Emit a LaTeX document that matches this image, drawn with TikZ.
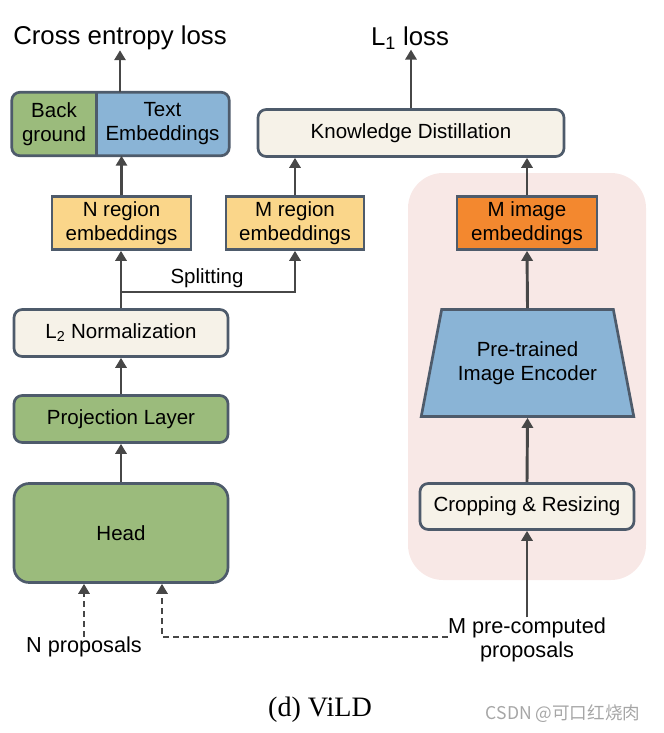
\documentclass[tikz,border=0pt]{standalone}
\usepackage{fontspec}
\setmainfont{Liberation Sans}
\newfontfamily\captionfont{Liberation Serif}
\newfontfamily\cjkfont{Noto Sans CJK SC}
\usetikzlibrary{arrows.meta, shapes.geometric, backgrounds}

\definecolor{edge}{HTML}{4E5B6B}
\definecolor{wire}{HTML}{474747}
\definecolor{leaf}{HTML}{9BBB7C}
\definecolor{sky}{HTML}{8AB4D6}
\definecolor{cream}{HTML}{F6F2E8}
\definecolor{wheat}{HTML}{FAD68A}
\definecolor{tangerine}{HTML}{F3882F}
\definecolor{blush}{HTML}{F8E8E6}

\begin{document}
\begin{tikzpicture}[
		x=0.03cm, y=-0.03cm,
		every node/.style={font=\fontsize{17.5}{20.5}\selectfont, align=center, inner sep=0pt},
		box/.style={draw=edge, line width=2.3pt, rounded corners=7pt},
		flat/.style={draw=edge, line width=2.3pt},
		arr/.style={draw=wire, line width=2.5pt, -{Triangle[length=8.5pt, width=9.5pt]}},
		dasharr/.style={arr, dash pattern=on 5pt off 3.5pt}
	]
  \useasboundingbox (0,0) rectangle (663,733);
  \node (back) [minimum width=2.52cm, minimum height=1.89cm] at (54,124) {Back\\ground};
  \node (text_emb) [minimum width=3.99cm, minimum height=1.89cm] at (162.5,124) {Text\\Embeddings};
  \node (know) [box, fill=cream, minimum width=9.18cm, minimum height=1.41cm] at (411,133) {Knowledge Distillation};
  \node (n_region) [flat, fill=wheat, minimum width=4.17cm, minimum height=1.59cm] at (121.5,223) {N region\\embeddings};
  \node (m_region) [flat, fill=wheat, minimum width=4.14cm, minimum height=1.59cm] at (295,223) {M region\\embeddings};
  \node (m_image) [flat, fill=tangerine, minimum width=4.2cm, minimum height=1.59cm] at (527,223) {M image\\embeddings};
  \node (l2_norm) [box, fill=cream, minimum width=6.42cm, minimum height=1.41cm] at (121,333) {L\textsubscript{2} Normalization};
  \node (proj) [box, fill=leaf, minimum width=6.42cm, minimum height=1.41cm] at (121,419) {Projection Layer};
  \node (head) [box, fill=leaf, rounded corners=13pt, minimum width=6.42cm, minimum height=2.97cm] at (121,533) {Head};
  \node (crop) [box, fill=cream, minimum width=6.42cm, minimum height=1.38cm] at (527,506.5) {Cropping \& Resizing};
  \node (encoder) [trapezium, trapezium left angle=69, trapezium right angle=69, trapezium stretches=true,
    draw=edge, line width=2.3pt, fill=sky, minimum width=6.39cm, minimum height=3.21cm] at (527.5,363) {Pre-trained\\Image Encoder};
  \node (ce_loss) [font=\fontsize{22}{26}\selectfont] at (120,38) {Cross entropy loss};
  \node (l1_loss) [font=\fontsize{22}{26}\selectfont] at (410,38) {L\textsubscript{1} loss};
  \node (split) at (207,278) {Splitting};
  \node (n_prop) [font=\fontsize{18.5}{21}\selectfont] at (84,647) {N proposals};
  \node (m_prop) [font=\fontsize{18.5}{21}\selectfont] at (527,640) {M pre-computed\\proposals};
  \node (caption) [font=\captionfont\fontsize{24}{28}\selectfont] at (320,710) {(d) ViLD};
  \node (mark) [font=\cjkfont\fontsize{15}{18}\selectfont, text=gray!70] at (563,714) {CSDN @可口红烧肉};
  \coordinate (fork) at (121,292);
  \coordinate (m_turn) at (162,637);

  \begin{scope}[on background layer]
    \fill[blush, rounded corners=30pt] (408,173) rectangle (646,580);
    \begin{scope}
      \clip[rounded corners=7pt] (back.north west) rectangle (text_emb.south east);
      \fill[leaf] (back.north west) rectangle (back.south east);
      \fill[sky] (text_emb.north west) rectangle (text_emb.south east);
    \end{scope}
  \end{scope}
  \draw[edge, line width=2.3pt, rounded corners=7pt] (back.north west) rectangle (text_emb.south east);
  \draw[edge, line width=2.3pt] (back.north east) -- (back.south east);

  \draw[arr] (ce_loss |- text_emb.north) -- (ce_loss.south);
  \draw[arr] (n_region.north) -- (n_region.north |- text_emb.south);
  \draw[arr] (m_region.north) -- (m_region.north |- know.south);
  \draw[arr] (m_image.north) -- (m_image.north |- know.south);
  \draw[arr] (know.north) -- (know.north |- l1_loss.south);
  \draw[arr] (l2_norm.north) -- (l2_norm.north |- n_region.south);
  \draw[arr] (fork) -| (m_region.south);
  \draw[arr] (proj.north) -- (l2_norm.south);
  \draw[arr] (head.north) -- (proj.south);
  \draw[arr] (encoder.north) -- (m_image.south);
  \draw[arr] (crop.north) -- (encoder.south);
  \draw[arr] (m_prop.north) -- (crop.south);
  \draw[dasharr] (n_prop.north) -- (n_prop.north |- head.south);
  \draw[dasharr] (m_prop.west |- m_turn) -- (m_turn) -- (m_turn |- head.south);
\end{tikzpicture}
\end{document}
